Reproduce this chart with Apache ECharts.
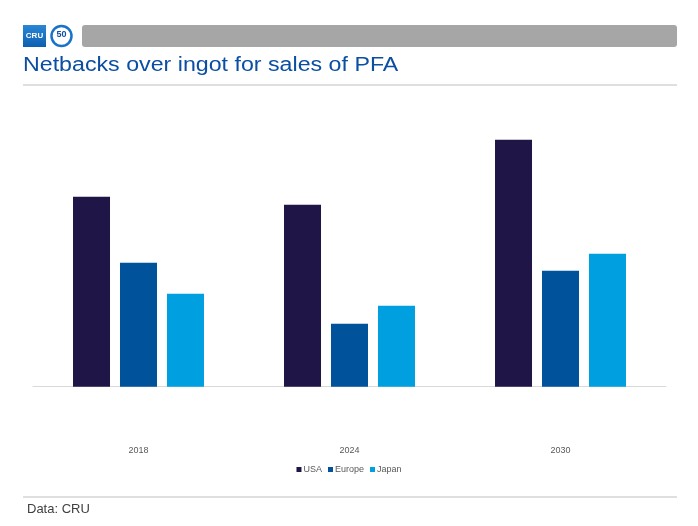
<!DOCTYPE html>
<html>
<head>
<meta charset="utf-8">
<script src="https://cdn.jsdelivr.net/npm/echarts@6/dist/echarts.min.js"></script>
<style>html,body{margin:0;padding:0;background:#fff;}#c{width:698px;height:526px;}</style>
</head>
<body>
<div id="c"></div>
<script>
const categories = ['2018', '2024', '2030'];
const usa = [190, 182, 247];
const europe = [124, 63, 116];
const japan = [93, 81, 133];
const seriesNames = ['USA', 'Europe', 'Japan'];
const titleText = 'Netbacks over ingot for sales of PFA';

const chart = echarts.init(document.getElementById('c'));
const font = '"Liberation Sans", Arial, sans-serif';
chart.setOption({
  animation: false,
  backgroundColor: '#fff',
  legend: {
    data: seriesNames,
    bottom: 47, left: 'center',
    icon: 'rect', itemWidth: 5, itemHeight: 5, itemGap: 6,
    textStyle: { fontFamily: font, fontSize: 9, color: '#595959', padding: [0, 0, 0, -3] }
  },
  grid: { left: 33, right: 32, top: 86.7, bottom: 139.3 },
  xAxis: {
    type: 'category', data: categories,
    axisLine: { lineStyle: { color: '#d9d9d9', width: 1 } },
    axisTick: { show: false },
    axisLabel: { margin: 59, fontFamily: font, fontSize: 9, color: '#595959' }
  },
  yAxis: { type: 'value', min: 0, max: 300, show: false, splitLine: { show: false } },
  series: [
    { name: 'USA', type: 'bar', data: usa, barWidth: 37, barGap: '27%', itemStyle: { color: '#201547' } },
    { name: 'Europe', type: 'bar', data: europe, barWidth: 37, barGap: '27%', itemStyle: { color: '#00529b' } },
    { name: 'Japan', type: 'bar', data: japan, barWidth: 37, barGap: '27%', itemStyle: { color: '#009fdf' } }
  ],
  graphic: [
    { type: 'rect', shape: { x: 23, y: 25, width: 23, height: 22 },
      style: { fill: new echarts.graphic.LinearGradient(0, 0, 0, 1, [{offset: 0, color: '#2a86d6'}, {offset: 1, color: '#0d5fb0'}]) } },
    { type: 'text', x: 34.5, y: 36, style: { text: 'CRU', fill: '#fff', font: 'bold 8px "Liberation Sans Narrow", "Liberation Sans", Arial', textAlign: 'center', textVerticalAlign: 'middle' } },
    { type: 'circle', shape: { cx: 61.5, cy: 36, r: 10 }, style: { fill: '#fff', stroke: '#1a73c8', lineWidth: 2.5 } },
    { type: 'text', x: 61.5, y: 35, style: { text: '50', fill: '#0d4f9e', font: 'bold 9px "Liberation Sans", Arial', textAlign: 'center', textVerticalAlign: 'middle' } },
    { type: 'rect', shape: { x: 82, y: 25, width: 595, height: 22, r: 3 }, style: { fill: '#a6a6a6' } },
    { type: 'text', x: 23, y: 55, scaleX: 1.16, style: { text: titleText, fill: '#0b4ea2', font: '20px "Liberation Sans", Arial' } },
    { type: 'line', shape: { x1: 23, y1: 85, x2: 677, y2: 85 }, style: { stroke: '#bfbfbf', lineWidth: 1.2 } },
    { type: 'line', shape: { x1: 23, y1: 497, x2: 677, y2: 497 }, style: { stroke: '#bfbfbf', lineWidth: 1.2 } },
    { type: 'text', x: 27, y: 503, style: { text: 'Data: CRU', fill: '#404040', font: '13px "Liberation Sans", Arial' } }
  ]
});
</script>
</body>
</html>
